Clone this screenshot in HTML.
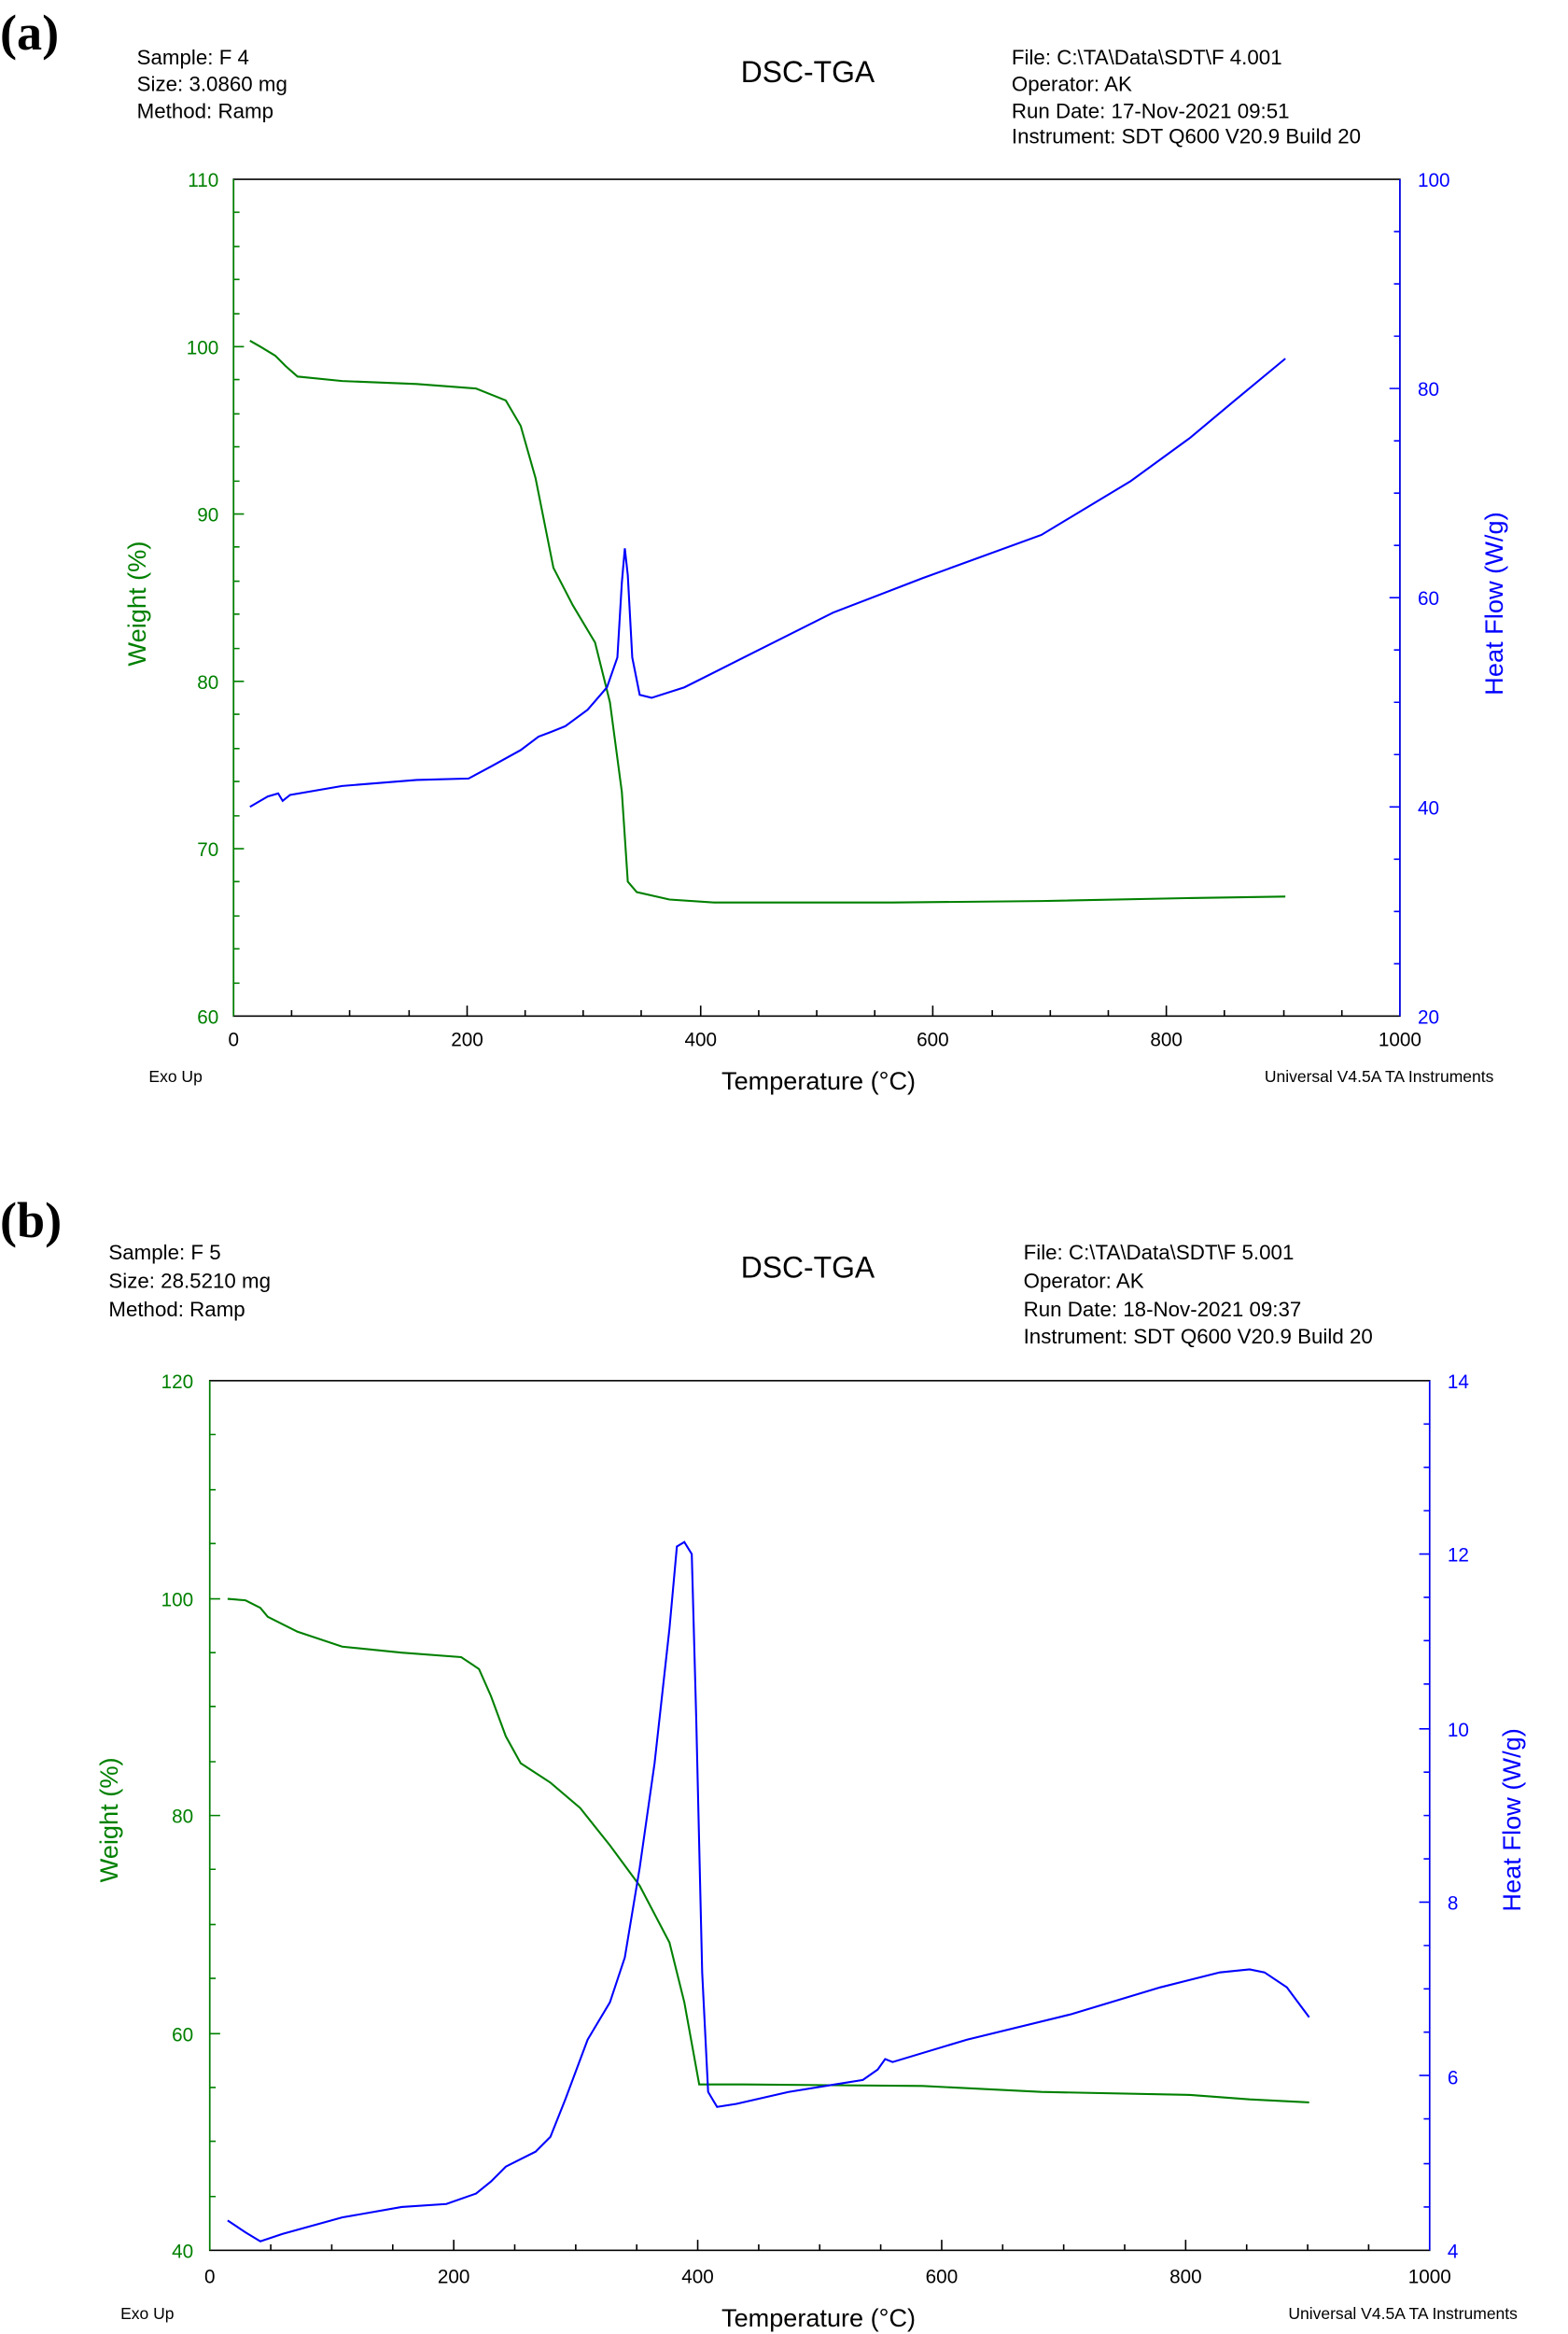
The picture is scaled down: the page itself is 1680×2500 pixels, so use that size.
<!DOCTYPE html>
<html><head><meta charset="utf-8"><style>html,body{margin:0;padding:0;background:#fff}svg{display:block}</style></head>
<body>
<svg width="1680" height="2500" viewBox="0 0 1054 1562" preserveAspectRatio="none" xmlns="http://www.w3.org/2000/svg" font-family="Liberation Sans, sans-serif">
<rect width="1054" height="1562" fill="#fff"/>
<!-- Panel a -->
<text x="0" y="33" font-family="Liberation Serif, serif" font-weight="bold" font-size="34">(a)</text>
<g font-size="14" fill="#000">
<text x="92" y="43">Sample: F 4</text><text x="92" y="61">Size:  3.0860 mg</text><text x="92" y="79">Method: Ramp</text>
<text x="498" y="55" font-size="20">DSC-TGA</text>
<text x="680" y="43">File: C:\TA\Data\SDT\F 4.001</text><text x="680" y="61">Operator: AK</text><text x="680" y="79">Run Date: 17-Nov-2021 09:51</text><text x="680" y="96">Instrument: SDT Q600 V20.9 Build 20</text>
<text x="100" y="724" font-size="11">Exo Up</text><text x="850" y="724" font-size="11">Universal V4.5A TA Instruments</text>
<text x="485" y="729" font-size="17">Temperature (°C)</text>
</g>
<rect x="157" y="120" width="784" height="560" fill="none" stroke="#000" stroke-width="1"/>
<line x1="157" y1="120" x2="157" y2="680" stroke="#008000"/><line x1="941" y1="120" x2="941" y2="680" stroke="#0000ff"/>
<g font-size="13" fill="#008000" text-anchor="end">
<text x="147" y="125">110</text><text x="147" y="237">100</text><text x="147" y="349">90</text><text x="147" y="461">80</text><text x="147" y="573">70</text><text x="147" y="685">60</text></g>
<g font-size="13" fill="#0000ff"><text x="953" y="125">100</text><text x="953" y="265">80</text><text x="953" y="405">60</text><text x="953" y="545">40</text><text x="953" y="685">20</text></g>
<g font-size="13" text-anchor="middle"><text x="157" y="700">0</text><text x="314" y="700">200</text><text x="471" y="700">400</text><text x="627" y="700">600</text><text x="784" y="700">800</text><text x="941" y="700">1000</text></g>
<text transform="translate(98,404) rotate(-90)" font-size="17" fill="#008000" text-anchor="middle">Weight (%)</text>
<text transform="translate(1010,404) rotate(-90)" font-size="17" fill="#0000ff" text-anchor="middle">Heat Flow (W/g)</text>
<path d="M157 120v560M157 142h4M157 165h4M157 187h4M157 210h4M157 232h7M157 254h4M157 277h4M157 299h4M157 322h4M157 344h7M157 366h4M157 389h4M157 411h4M157 434h4M157 456h7M157 478h4M157 501h4M157 523h4M157 546h4M157 568h7M157 590h4M157 613h4M157 635h4M157 658h4" stroke="#008000" fill="none"/>
<path d="M941 155h-4M941 190h-4M941 225h-4M941 260h-7M941 295h-4M941 330h-4M941 365h-4M941 400h-7M941 435h-4M941 470h-4M941 505h-4M941 540h-7M941 575h-4M941 610h-4M941 645h-4" stroke="#0000ff"/>
<path d="M196 680v-4M235 680v-4M275 680v-4M314 680v-7M353 680v-4M392 680v-4M431 680v-4M471 680v-7M510 680v-4M549 680v-4M588 680v-4M627 680v-7M667 680v-4M706 680v-4M745 680v-4M784 680v-7M823 680v-4M863 680v-4M902 680v-4" stroke="#000"/>
<polyline fill="none" stroke="#008000" stroke-width="1.3" points="168,228 175,232 185,238 192,245 200,252 230,255 280,257 320,260 340,268 350,285 360,320 372,380 385,405 400,430 410,470 418,530 422,590 428,597 450,602 480,604 600,604 700,603 800,601 864,600"/>
<polyline fill="none" stroke="#0000ff" stroke-width="1.3" points="168,540 180,533 187,531 190,536 195,532 230,526 280,522 315,521 330,513 350,502 362,493 370,490 380,486 395,475 408,460 415,440 418,390 420,367 422,385 425,440 430,465 438,467 460,460 500,440 560,410 620,387 700,358 760,322 800,293 830,268 864,240"/>
<!-- Panel b -->
<text x="0" y="828" font-family="Liberation Serif, serif" font-weight="bold" font-size="34">(b)</text>
<g font-size="14" fill="#000">
<text x="73" y="843">Sample: F 5</text><text x="73" y="862">Size:  28.5210 mg</text><text x="73" y="881">Method: Ramp</text>
<text x="498" y="855" font-size="20">DSC-TGA</text>
<text x="688" y="843">File: C:\TA\Data\SDT\F 5.001</text><text x="688" y="862">Operator: AK</text><text x="688" y="881">Run Date: 18-Nov-2021 09:37</text><text x="688" y="899">Instrument: SDT Q600 V20.9 Build 20</text>
<text x="81" y="1552" font-size="11">Exo Up</text><text x="866" y="1552" font-size="11">Universal V4.5A TA Instruments</text>
<text x="485" y="1557" font-size="17">Temperature (°C)</text>
</g>
<rect x="141" y="924" width="820" height="582" fill="none" stroke="#000" stroke-width="1"/>
<line x1="141" y1="924" x2="141" y2="1506" stroke="#008000"/><line x1="961" y1="924" x2="961" y2="1506" stroke="#0000ff"/>
<g font-size="13" fill="#008000" text-anchor="end">
<text x="130" y="929">120</text><text x="130" y="1075">100</text><text x="130" y="1220">80</text><text x="130" y="1366">60</text><text x="130" y="1511">40</text></g>
<g font-size="13" fill="#0000ff"><text x="973" y="929">14</text><text x="973" y="1045">12</text><text x="973" y="1162">10</text><text x="973" y="1278">8</text><text x="973" y="1395">6</text><text x="973" y="1511">4</text></g>
<g font-size="13" text-anchor="middle"><text x="141" y="1528">0</text><text x="305" y="1528">200</text><text x="469" y="1528">400</text><text x="633" y="1528">600</text><text x="797" y="1528">800</text><text x="961" y="1528">1000</text></g>
<text transform="translate(79,1218) rotate(-90)" font-size="17" fill="#008000" text-anchor="middle">Weight (%)</text>
<text transform="translate(1022,1218) rotate(-90)" font-size="17" fill="#0000ff" text-anchor="middle">Heat Flow (W/g)</text>
<path d="M141 960h4M141 997h4M141 1033h4M141 1070h7M141 1106h4M141 1142h4M141 1179h4M141 1215h7M141 1251h4M141 1288h4M141 1324h4M141 1361h7M141 1397h4M141 1433h4M141 1470h4" stroke="#008000"/>
<path d="M961 953h-4M961 982h-4M961 1011h-4M961 1040h-7M961 1069h-4M961 1098h-4M961 1127h-4M961 1157h-7M961 1186h-4M961 1215h-4M961 1244h-4M961 1273h-7M961 1302h-4M961 1331h-4M961 1360h-4M961 1389h-7M961 1418h-4M961 1448h-4M961 1477h-4" stroke="#0000ff"/>
<path d="M182 1506v-4M223 1506v-4M264 1506v-4M305 1506v-7M346 1506v-4M387 1506v-4M428 1506v-4M469 1506v-7M510 1506v-4M551 1506v-4M592 1506v-4M633 1506v-7M674 1506v-4M715 1506v-4M756 1506v-4M797 1506v-7M838 1506v-4M879 1506v-4M920 1506v-4" stroke="#000"/>
<polyline fill="none" stroke="#008000" stroke-width="1.3" points="153,1070 165,1071 175,1076 180,1082 200,1092 230,1102 270,1106 310,1109 322,1117 330,1135 340,1162 350,1180 370,1193 390,1210 410,1235 430,1262 450,1300 460,1340 470,1395 500,1395 620,1396 700,1400 800,1402 840,1405 880,1407"/>
<polyline fill="none" stroke="#0000ff" stroke-width="1.3" points="153,1486 165,1494 175,1500 190,1495 230,1484 270,1477 300,1475 320,1468 330,1460 340,1450 350,1445 360,1440 370,1430 380,1405 395,1365 410,1340 420,1310 430,1250 440,1180 450,1090 455,1035 460,1032 465,1040 468,1150 472,1320 476,1400 482,1410 495,1408 530,1400 580,1392 590,1385 595,1378 600,1380 650,1365 720,1348 780,1330 820,1320 840,1318 850,1320 865,1330 880,1350"/>
</svg>
</body></html>
